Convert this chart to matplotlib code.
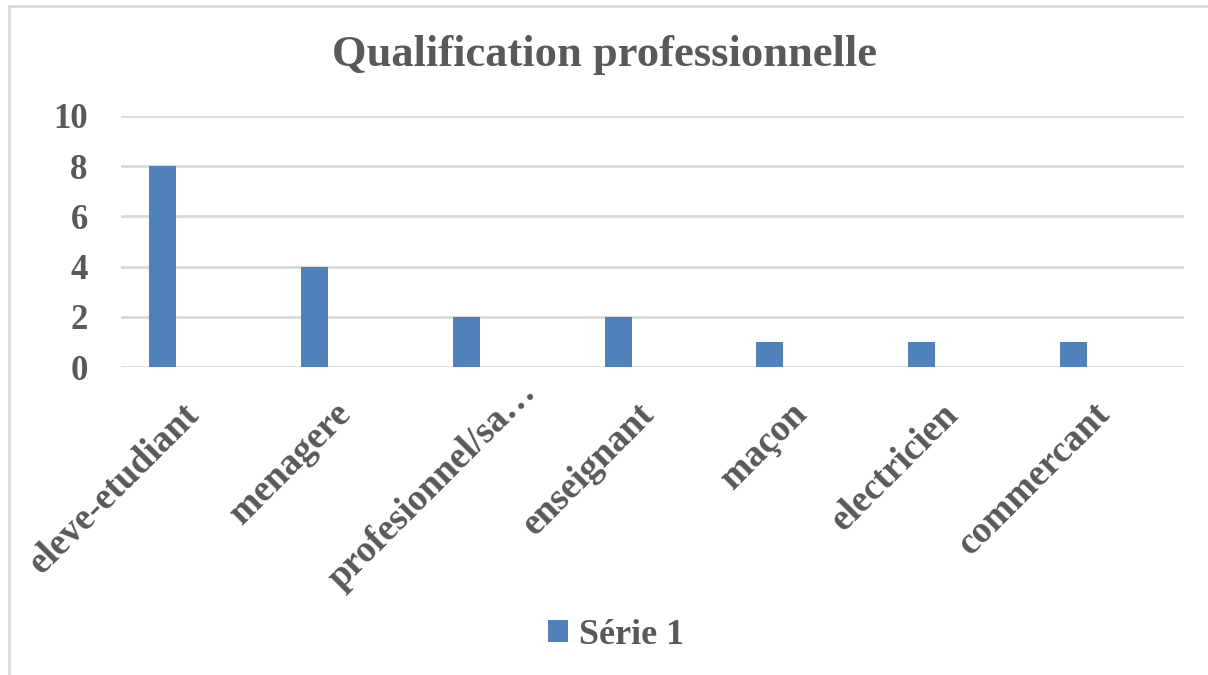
import matplotlib.pyplot as plt
from matplotlib.patches import Rectangle
from matplotlib.transforms import Affine2D

# data
categories = ['eleve-etudiant', 'menagere', 'profesionnel/sa\u2026', 'enseignant',
              'maçon', 'electricien', 'commercant']
values = [8, 4, 2, 2, 1, 1, 1]
y_ticks = [0, 2, 4, 6, 8, 10]
series_name = 'Série 1'
title = 'Qualification professionnelle'

text_color = '#595959'
bar_color = '#4F81BD'
grid_color = '#D9D9D9'

plt.rcParams['font.family'] = ['Liberation Serif', 'DejaVu Serif']
plt.rcParams['font.weight'] = 'bold'

fig = plt.figure(figsize=(12.08, 6.75), dpi=100)
ax = fig.add_axes([121 / 1208, 1 - 367 / 675, (1184 - 121) / 1208, (367 - 116) / 675])

# chart frame (cut off at right/bottom like the screenshot)
fig.patches.append(Rectangle((9 / 1208, -0.05), 1.1, 1 - 6 / 675 + 0.05,
                             transform=fig.transFigure, fill=False,
                             edgecolor=grid_color, linewidth=2))

# only first series of a clustered layout is visible -> bars sit left of centre
offset = -0.227
width = 0.178
xs = [i + offset for i in range(len(categories))]
ax.bar(xs, values, width=width, color=bar_color, label=series_name, zorder=3)

ax.set_xlim(-0.5, len(categories) - 0.5)
ax.set_ylim(0, 10)
ax.set_yticks(y_ticks)
ax.yaxis.grid(True, color=grid_color, linewidth=2)
ax.set_axisbelow(True)
for s in ax.spines.values():
    s.set_visible(False)
ax.tick_params(axis='both', length=0, colors=text_color)
ax.tick_params(axis='y', pad=24, labelsize=25)
ax.tick_params(axis='x', pad=33, labelsize=27)
ax.set_xticks(range(len(categories)))
ax.set_xticklabels(categories, rotation=45, ha='right', va='center',
                   rotation_mode='anchor')
for lab in ax.get_xticklabels() + ax.get_yticklabels():
    lab.set_fontweight('bold')
# truncated label sits further up/right, like Excel places it
for i, lab in enumerate(ax.get_xticklabels()):
    dx, dy = (-3, 4) if i != 2 else (30, 26)
    lab.set_transform(lab.get_transform() + Affine2D().translate(dx, dy))

fig.text(0.5, 1 - 55 / 675, title, ha='center', va='center', fontsize=32,
         fontweight='bold', color=text_color)

leg = fig.legend(loc='center', bbox_to_anchor=(0.51, 1 - 635 / 675), frameon=False,
                 fontsize=26, handlelength=0.55, handleheight=0.55,
                 handletextpad=0.3)
for t in leg.get_texts():
    t.set_color(text_color)
    t.set_fontweight('bold')

fig.savefig('out.png', dpi=100)
